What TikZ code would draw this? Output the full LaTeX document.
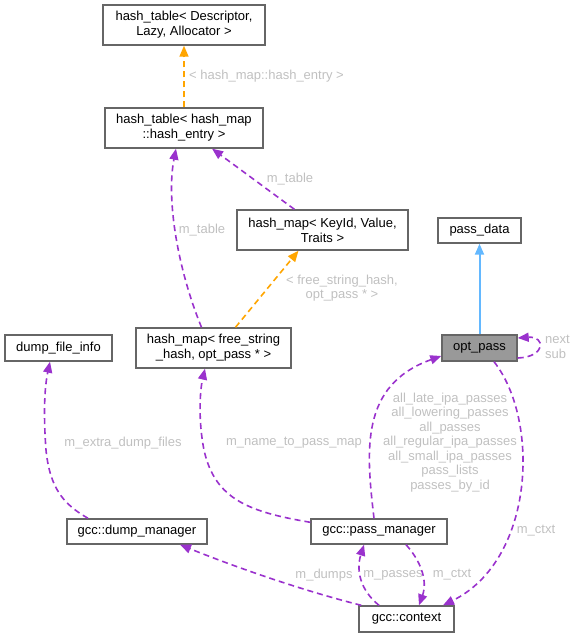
\documentclass[tikz,border=0pt]{standalone}
\usepackage{fontspec}
\setmainfont{Liberation Sans}
\usetikzlibrary{arrows.meta}
\definecolor{edgepurple}{HTML}{9A32CD}
\definecolor{tmplorange}{HTML}{FFA500}
\definecolor{inhblue}{HTML}{63B8FF}
\definecolor{boxgray}{HTML}{666666}
\definecolor{lblgray}{HTML}{C0C0C0}
\definecolor{curfill}{HTML}{999999}
\begin{document}
\begin{tikzpicture}[x=1pt, y=-1pt]
        % Common styles
        \tikzstyle{box}=[draw=boxgray, line width=1.4pt, fill=white, inner sep=0pt, align=center, font=\fontsize{13}{15}\selectfont]
        \tikzstyle{lbl}=[text=lblgray, inner sep=0pt, align=center, font=\fontsize{13}{14.5}\selectfont]
        \tikzstyle{tip}=[->, >={Triangle[length=11pt, width=9pt]}, line width=1.6pt]
        \tikzstyle{member}=[tip, edgepurple, dash pattern=on 6pt off 4pt]
        \tikzstyle{tmpl}=[tip, tmplorange, dash pattern=on 6pt off 4pt]
        \tikzstyle{inherit}=[tip, inhblue, line width=2pt]
        \useasboundingbox (0,0) rectangle (576,637);

        % --- Classes ---
        \node[box, minimum width=162pt, minimum height=40pt] (htdesc) at (184,25) {hash\_table< Descriptor,\\Lazy, Allocator >};
        \node[box, minimum width=158pt, minimum height=40pt] (htentry) at (184,128) {hash\_table< hash\_map\\::hash\_entry >};
        \node[box, minimum width=171pt, minimum height=40pt] (hmkey) at (322.5,230) {hash\_map< KeyId, Value,\\Traits >};
        \node[box, minimum width=155pt, minimum height=40pt] (hmfree) at (213.5,348) {hash\_map< free\_string\\\_hash, opt\_pass * >};
        \node[box, minimum width=107pt, minimum height=26pt] (dumpinfo) at (58.5,348) {dump\_file\_info};
        \node[box, minimum width=83pt, minimum height=25pt] (passdata) at (479.5,230.5) {pass\_data};
        \node[box, fill=curfill, minimum width=75pt, minimum height=26pt] (optpass) at (479.5,348) {opt\_pass};
        \node[box, minimum width=140pt, minimum height=25pt] (dumpmgr) at (137,531.5) {gcc::dump\_manager};
        \node[box, minimum width=136pt, minimum height=25pt] (passmgr) at (379,531.5) {gcc::pass\_manager};
        \node[box, minimum width=95pt, minimum height=26pt] (context) at (406.5,619) {gcc::context};

        % --- Templates and base class ---
        \draw[tmpl] (htentry) -- (htdesc);
        \node[lbl, anchor=west] (lblentry) at (189,76) {< hash\_map::hash\_entry >};
        \draw[tmpl] ([xshift=22pt]hmfree.north) -- ([xshift=-24pt]hmkey.south);
        \node[lbl] (lblfree) at (342,288) {< free\_string\_hash,\\opt\_pass * >};
        \draw[inherit] (optpass) -- (passdata);

        % --- Members ---
        \draw[member] (hmkey) -- (htentry);
        \node[lbl] (lbltable) at (290,179) {m\_table};
        \draw[member] ([xshift=-12pt]hmfree.north) .. controls (178,270) and (166,200) .. ([xshift=-8pt]htentry.south);
        \node[lbl] (lbltable2) at (202,230) {m\_table};
        \draw[member] ([yshift=-10pt]optpass.east) .. controls (546,357) and (546,336) .. ([yshift=10pt]optpass.east);
        \node[lbl, anchor=west, align=left] (lblnext) at (545,347) {next\\sub};
        \draw[member] ([xshift=-5pt]passmgr.north) .. controls (366,450) and (360,385) .. ([yshift=-8pt]optpass.west);
        \node[lbl] (lblpasses) at (450,442.5) {all\_late\_ipa\_passes\\all\_lowering\_passes\\all\_passes\\all\_regular\_ipa\_passes\\all\_small\_ipa\_passes\\pass\_lists\\passes\_by\_id};
        \draw[member] ([xshift=14.5pt]optpass.south) .. controls (540,420) and (535,560) .. ([xshift=36.5pt]context.north);
        \node[lbl] (lblctxt) at (536,531) {m\_ctxt};
        \draw[member] ([yshift=-4pt]passmgr.north west) .. controls (250,512) and (215,500) .. (204,450) .. controls (198,420) and (200,390) .. ([xshift=-8.5pt]hmfree.south);
        \node[lbl] (lblname) at (294,443) {m\_name\_to\_pass\_map};
        \draw[member] ([xshift=-49pt]dumpmgr.north) .. controls (65,505) and (50,490) .. (46,450) .. controls (43,410) and (45,385) .. ([xshift=-8.5pt]dumpinfo.south);
        \node[lbl] (lblextra) at (123,443) {m\_extra\_dump\_files};
        \draw[member] ([xshift=3pt]context.north west) .. controls (300,590) and (230,565) .. ([xshift=43pt]dumpmgr.south);
        \node[lbl] (lbldumps) at (324,575) {m\_dumps};
        \draw[member] ([xshift=-27.5pt]context.north) .. controls (360,590) and (356,570) .. ([xshift=-15pt]passmgr.south);
        \node[lbl] (lblpassmgr) at (393,575) {m\_passes};
        \draw[member] ([xshift=27pt]passmgr.south) .. controls (420,560) and (428,580) .. ([xshift=12.5pt]context.north);
        \node[lbl] (lblctxt2) at (452,575) {m\_ctxt};

\end{tikzpicture}
\end{document}
